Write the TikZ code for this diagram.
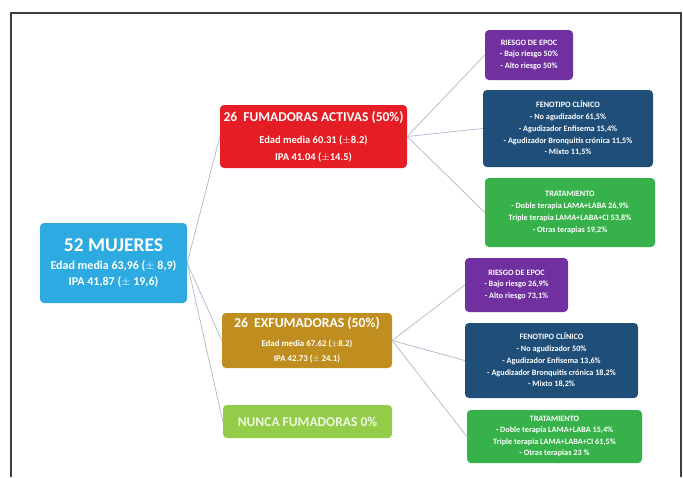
\documentclass[tikz,border=0pt]{standalone}
\usepackage{fontspec}
\setmainfont{Carlito}
\usepackage{tikz}
\usetikzlibrary{positioning}
\definecolor{mujblue}{RGB}{45,170,225}
\definecolor{actred}{RGB}{228,30,36}
\definecolor{exfgold}{RGB}{192,142,30}
\definecolor{nungreen}{RGB}{146,204,72}
\definecolor{epocpurple}{RGB}{112,48,160}
\definecolor{fenonavy}{RGB}{31,78,121}
\definecolor{tratgreen}{RGB}{55,178,74}
\definecolor{linkgrey}{RGB}{170,185,205}

\begin{document}
\begin{tikzpicture}[x=1pt, y=-1pt,
      box/.style={rounded corners=4pt, align=center, text=white, inner sep=2pt, font=\bfseries},
      leaf/.style={box, font=\fontsize{8.2}{11.8}\selectfont\bfseries},
      link/.style={draw=linkgrey, line width=0.7pt}
    ]
      \useasboundingbox (0,0) rectangle (683,477);
      \draw[line width=1.1pt, black!75] (11,477) -- (11,13) -- (681,13) -- (681,477);

      \node[box, fill=mujblue, minimum width=147pt, minimum height=80pt, font=\fontsize{12}{16}\selectfont\bfseries] (muj) at (113.5,263) {
        {\fontsize{19.5}{22}\selectfont 52 MUJERES}\\[2pt]
        Edad media 63,96 ($\pm$ 8,9)\\
        IPA 41,87 ($\pm$ 19,6)
      };

      \node[box, fill=actred, minimum width=187pt, minimum height=63pt, font=\fontsize{10.5}{17}\selectfont\bfseries] (act) at (313.5,136.5) {
        {\fontsize{13.5}{15}\selectfont 26\ \ FUMADORAS ACTIVAS (50\%)}\\[5pt]
        Edad media 60.31 ($\pm$8.2)\\
        IPA 41.04 ($\pm$14.5)
      };

      \node[box, fill=exfgold, minimum width=170pt, minimum height=55pt, font=\fontsize{8.8}{15}\selectfont\bfseries] (exf) at (307,340.5) {
        {\fontsize{13.7}{15}\selectfont 26\ \ EXFUMADORAS (50\%)}\\[4pt]
        Edad media 67.62 ($\pm$8.2)\\
        IPA 42.73 ($\pm$ 24.1)
      };

      \node[box, fill=nungreen, text=nungreen!15, minimum width=169pt, minimum height=33pt, font=\fontsize{13.5}{15}\selectfont\bfseries] (nun) at (307.5,421.5) {NUNCA FUMADORAS 0\%};

      \node[leaf, fill=epocpurple, minimum width=88pt, minimum height=50pt] (epoc1) at (529,55) {
        RIESGO DE EPOC\\ - Bajo riesgo 50\%\\ - Alto riesgo 50\%
      };
      \node[leaf, fill=fenonavy, minimum width=170pt, minimum height=77pt] (feno1) at (568,128.5) {
        FENOTIPO CLÍNICO\\ - No agudizador 61,5\%\\ - Agudizador Enfisema 15,4\%\\
        - Agudizador Bronquitis crónica 11,5\%\\ - Mixto 11,5\%
      };
      \node[leaf, fill=tratgreen, minimum width=170pt, minimum height=69pt] (trat1) at (570,212.5) {
        TRATAMIENTO\\ - Doble terapia LAMA+LABA 26,9\%\\ Triple terapia LAMA+LABA+CI 53,8\%\\ - Otras terapias 19,2\%
      };

      \node[leaf, fill=epocpurple, minimum width=103pt, minimum height=54pt] (epoc2) at (516.5,285) {
        RIESGO DE EPOC\\ - Bajo riesgo 26,9\%\\ - Alto riesgo 73,1\%
      };
      \node[leaf, fill=fenonavy, minimum width=173pt, minimum height=75pt] (feno2) at (551.5,360.5) {
        FENOTIPO CLÍNICO\\ - No agudizador 50\%\\ - Agudizador Enfisema 13,6\%\\
        - Agudizador Bronquitis crónica 18,2\%\\ - Mixto 18,2\%
      };
      \node[leaf, fill=tratgreen, minimum width=175pt, minimum height=53pt, font=\fontsize{8.2}{11.3}\selectfont\bfseries] (trat2) at (554.5,436.5) {
        TRATAMIENTO\\ - Doble terapia LAMA+LABA 15,4\%\\ Triple terapia LAMA+LABA+CI 61,5\%\\ - Otras terapias 23 \%
      };

      \foreach \n in {act,exf,nun}
        \draw[link] (muj.east) -- (\n.west);
      \foreach \n in {epoc1,feno1,trat1}
        \draw[link] (act.east) -- (\n.west);
      \foreach \n in {epoc2,feno2,trat2}
        \draw[link] (exf.east) -- (\n.west);
    \end{tikzpicture}
\end{document}
